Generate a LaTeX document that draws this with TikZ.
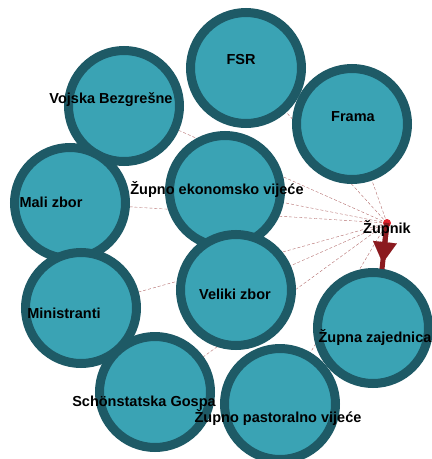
\documentclass[tikz,border=0pt]{standalone}
\usepackage{fontspec}
\setmainfont{Liberation Sans}
\usetikzlibrary{arrows.meta,backgrounds}
\definecolor{ring}{HTML}{1E5A66}
\definecolor{group}{HTML}{3AA3B4}
\definecolor{linkc}{HTML}{A04848}
\definecolor{arrowc}{HTML}{8B1A1F}
\definecolor{dotc}{HTML}{E0202A}
\tikzset{
  member/.style={
    circle, draw=ring, fill=group, line width=9pt,
    minimum size=111pt, inner sep=0pt
  },
  grouplabel/.style={
    font=\bfseries\fontsize{14.5}{16}\selectfont, text=black,
    inner sep=0pt
  },
  link/.style={draw=linkc, line width=0.4pt, densely dashed, opacity=0.8},
  lead/.style={draw=arrowc, line width=5pt},
  leadtip/.style={-{Triangle[width=24pt,length=21pt,line width=0.1pt]}, draw=arrowc, fill=arrowc, line width=5pt}
}

\begin{document}
\begin{tikzpicture}[x=1pt, y=-1pt]
    \useasboundingbox (0,0) rectangle (432,459);
    % groups round the parish priest
    \node[member] (fsr) at (246,68) {};
    \node[member] (frama) at (352,124) {};
    \node[member] (vojska) at (124,106) {};
    \node[member] (mali) at (70,203) {};
    \node[member] (ekon) at (225,191) {};
    \node[member] (veliki) at (236,290) {};
    \node[member] (minis) at (81,308) {};
    \node[member] (schoen) at (155,392) {};
    \node[member] (pastor) at (280,404) {};
    \node[member] (zajed) at (373,328) {};
    \node[circle, fill=dotc, minimum size=8pt, inner sep=0pt] (zupnik) at (387,223) {};
    \coordinate (zajtop) at (382,269);

    \begin{scope}[on background layer]
      \foreach \g in {fsr,frama,vojska,mali,ekon,veliki,minis,schoen,pastor}
        \draw[link] (zupnik.center) -- (\g.center);
    \end{scope}
    \draw[lead] (zupnik.center) -- (zajtop);
    \draw[leadtip, shorten >=6pt] (zupnik.center) -- (zajtop);

    % labels on top
    \node[grouplabel] (fsr-l) at (241,60) {FSR};
    \node[grouplabel] (frama-l) at (353,117) {Frama};
    \node[grouplabel] (vojska-l) at (111,100) {Vojska Bezgrešne};
    \node[grouplabel] (mali-l) at (51,202) {Mali zbor};
    \node[grouplabel] (ekon-l) at (217,190) {Župno ekonomsko vijeće};
    \node[grouplabel] (veliki-l) at (235,294) {Veliki zbor};
    \node[grouplabel] (minis-l) at (64,313) {Ministranti};
    \node[grouplabel] (schoen-l) at (144,403) {Schönstatska Gospa};
    \node[grouplabel] (pastor-l) at (278,418) {Župno pastoralno vijeće};
    \node[grouplabel] (zajed-l) at (375,338) {Župna zajednica};
    \node[grouplabel] (zupnik-l) at (387,229) {Župnik};
\end{tikzpicture}
\end{document}
